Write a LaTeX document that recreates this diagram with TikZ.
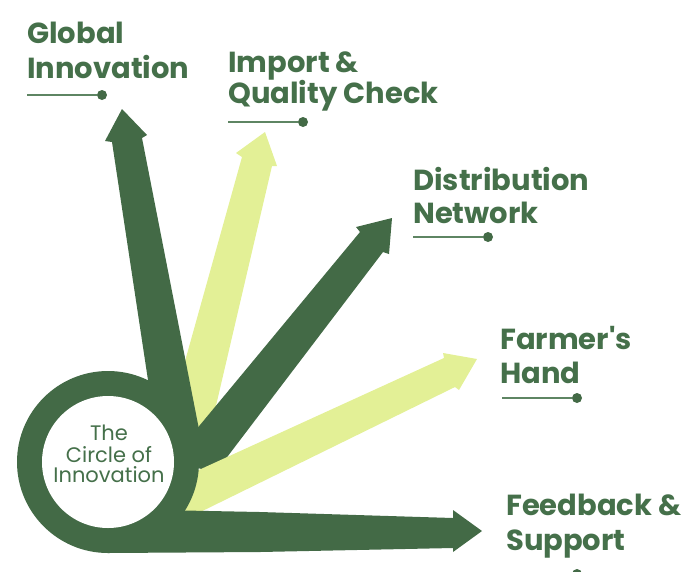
\documentclass[tikz,border=0pt]{standalone}
\usepackage{fontspec}
\setmainfont{Poppins}[Ligatures=TeXOff]
\definecolor{dk}{HTML}{436A46}
\definecolor{lt}{HTML}{E3F096}
\definecolor{txt}{HTML}{45704A}
\definecolor{ln}{HTML}{5E8563}
\tikzset{
  lab/.style={anchor=base west, inner sep=0pt, text=txt, font=\bfseries\fontsize{29}{34}\selectfont},
  ctr/.style={anchor=base, inner sep=0pt, text=txt, font=\fontsize{21}{21}\selectfont},
  rule/.style={draw=ln, line width=2pt},
  dotm/.style={circle, fill=dk, inner sep=0pt, minimum size=10pt}
}
\begin{document}
\begin{tikzpicture}[x=1pt,y=-1pt]
\useasboundingbox (0,0) rectangle (687,571);
\clip (0,0) rectangle (687,571);
\coordinate (cc) at (108,462);
% Import & Quality Check (light)
\fill[lt] (163,440) -- (242,157) -- (236,153) -- (265,132) -- (277,166) -- (272,166) -- (208,440) -- cycle;
% Global Innovation (dark)
\fill[dk] (151,400) -- (112,142) -- (105,141) -- (122,109) -- (147,135) -- (142,138) -- (205,460) -- cycle;
% Distribution Network (dark)
\fill[dk] (171,460) -- (360,232) -- (356,227) -- (392,218) -- (389,254) -- (383,252) -- (215,473) -- cycle;
% Farmer's Hand (light)
\fill[lt] (190,474) -- (444,358) -- (443,353) -- (477,359) -- (459,390) -- (455,387) -- (180,522) -- cycle;
% Feedback & Support (dark)
\fill[dk] (108,509) -- (260,512) -- (453,518) -- (453,510) -- (482,531) -- (453,552) -- (453,548) -- (260,552) -- (108,553) -- cycle;
% ring
\fill[dk] (cc) circle (91pt);
\fill[white] (cc) circle (66pt);
\node[ctr] (c1) at (109,440) {The};
\node[ctr] (c2) at (109,462) {Circle of};
\node[ctr] (c3) at (109,482) {Innovation};
% labels
\node[lab] (g1) at (27,43) {Global};
\node[lab] (g2) at (27,78) {Innovation};
\node[dotm] (gd) at (102,95) {};
\draw[rule] (27,95) -- (gd);
\node[lab] (i1) at (228,72) {Import \&};
\node[lab] (i2) at (228,103) {Quality Check};
\node[dotm] (id) at (303,122) {};
\draw[rule] (228,122) -- (id);
\node[lab] (d1) at (413,190) {Distribution};
\node[lab] (d2) at (413,223) {Network};
\node[dotm] (dd) at (488,237) {};
\draw[rule] (413,237) -- (dd);
\node[lab] (f1) at (500,349) {Farmer's};
\node[lab] (f2) at (500,383) {Hand};
\node[dotm] (fd) at (577,398) {};
\draw[rule] (502,398) -- (fd);
\node[lab] (s1) at (506,515) {Feedback \&};
\node[lab] (s2) at (506,550) {Support};
\node[dotm] (sd) at (577,574) {};
\draw[rule] (506,574) -- (sd);
\end{tikzpicture}
\end{document}
